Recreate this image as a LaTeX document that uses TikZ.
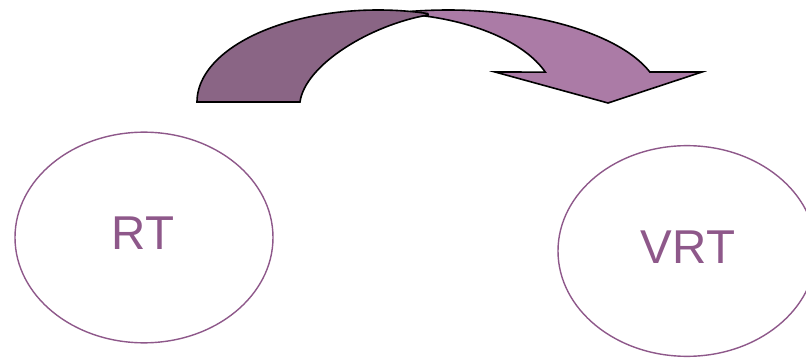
\documentclass[tikz,border=0pt]{standalone}
\usepackage{fontspec}
\setmainfont{Liberation Sans}
\usetikzlibrary{shapes.geometric}
\definecolor{darkplum}{RGB}{138,101,133}
\definecolor{lightplum}{RGB}{171,123,166}
\definecolor{plumline}{RGB}{142,88,138}
\tikzset{
  bubble/.style={draw=plumline, line width=1.05pt, ellipse, inner sep=0pt,
    minimum width=193.5pt, minimum height=158pt},
  bubbletext/.style={text=plumline, inner sep=0pt, font=\fontsize{35.6}{40}\selectfont},
  bandpart/.style={draw=black, line width=1.2pt, line join=miter}
}
\begin{document}
\begin{tikzpicture}[x=0.75pt,y=0.75pt]
\useasboundingbox (0,0) rectangle (806,357);
\clip (0,0) rectangle (806,357);
% light (front) part of the curved arrow
\draw[bandpart, fill=lightplum]
  (411,345.6) arc[start angle=100, end angle=18.6, x radius=159.75pt, y radius=68.25pt]
  -- (702,285) -- (608,254) -- (495,285) -- (545.3,284.9)
  arc[start angle=19.2, end angle=80, x radius=131.25pt, y radius=66pt]
  -- cycle;
% dark (back) part of the curved arrow
\draw[bandpart, fill=darkplum]
  (197,255) arc[start angle=180, end angle=74, x radius=135.75pt, y radius=69pt]
  -- (428,342) .. controls (370,332) and (305,292) .. (300,255)
  -- cycle;
% ellipses
\node[bubble] (rt) at (144,119.5) {};
\node[bubbletext] (rtl) at (143,124) {RT};
\node[bubble] (vrt) at (687,106) {};
\node[bubbletext] (vrtl) at (688,110) {VRT};
\end{tikzpicture}
\end{document}
